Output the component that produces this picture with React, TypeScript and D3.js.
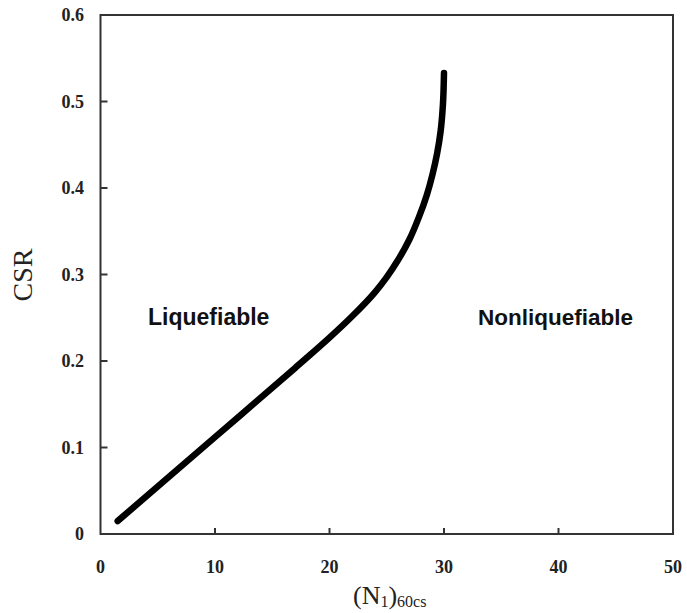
import React from "react";
import * as d3 from "d3";

const N1_60cs = [1.5, 10, 17, 20, 22, 24, 25, 26, 27, 27.8, 28.5, 29.0, 29.4, 29.7, 29.9, 30.0];
const CSR = [0.015, 0.112, 0.192, 0.227, 0.252, 0.280, 0.297, 0.317, 0.341, 0.366, 0.392, 0.416, 0.440, 0.465, 0.495, 0.533];
const xTicks = [0, 10, 20, 30, 40, 50];
const yTicks = [0, 0.1, 0.2, 0.3, 0.4, 0.5, 0.6];
const yTickLabels = ["0", "0.1", "0.2", "0.3", "0.4", "0.5", "0.6"];

const W = 687;
const H = 613;
const L = 100.5, R = 673, T = 15, B = 534;

export default function App() {
  const x = d3.scaleLinear().domain([0, 50]).range([L, R]);
  const y = d3.scaleLinear().domain([0, 0.6]).range([B, T]);
  const pts: [number, number][] = N1_60cs.map((n, i) => [n, CSR[i]]);
  const line = d3
    .line<[number, number]>()
    .x((d) => x(d[0]))
    .y((d) => y(d[1]))
    .curve(d3.curveMonotoneY);
  const serif = "'Liberation Serif', 'Times New Roman', serif";
  const sans = "'Liberation Sans', Arial, sans-serif";
  const axisColor = "#333";
  return (
    <svg
      width={W}
      height={H}
      style={{ position: "absolute", left: 0, top: 0, background: "#fff" }}
    >
      <rect x={0} y={0} width={W} height={H} fill="#fff" />
      <rect x={L} y={T} width={R - L} height={B - T} fill="none" stroke={axisColor} strokeWidth={2} />
      {xTicks.map((t) => (
        <g key={"x" + t}>
          {t > 0 && t < 50 && (
            <line x1={x(t)} x2={x(t)} y1={B} y2={B - 6} stroke={axisColor} strokeWidth={2} />
          )}
          <text
            x={x(t)}
            y={573}
            textAnchor="middle"
            fontFamily={serif}
            fontWeight="bold"
            fontSize={18}
            fill="#222"
          >
            {t}
          </text>
        </g>
      ))}
      {yTicks.map((t, i) => (
        <g key={"y" + t}>
          {i > 0 && i < yTicks.length - 1 && (
            <line x1={L} x2={L + 7} y1={y(t)} y2={y(t)} stroke={axisColor} strokeWidth={2} />
          )}
          <text
            x={84}
            y={y(t)}
            dy="0.35em"
            textAnchor="end"
            fontFamily={serif}
            fontWeight="bold"
            fontSize={18}
            fill="#222"
          >
            {yTickLabels[i]}
          </text>
        </g>
      ))}
      <path
        d={line(pts) || ""}
        fill="none"
        stroke="#000"
        strokeWidth={6.5}
        strokeLinecap="round"
        strokeLinejoin="round"
      />
      <text x={148} y={325} fontFamily={sans} fontWeight="bold" fontSize={23} fill="#111">
        Liquefiable
      </text>
      <text x={478} y={325} fontFamily={sans} fontWeight="bold" fontSize={22.5} fill="#111">
        Nonliquefiable
      </text>
      <text
        transform={`translate(32, 275) rotate(-90)`}
        textAnchor="middle"
        fontFamily={serif}
        fontSize={28}
        fill="#222"
      >
        CSR
      </text>
      <text x={353} y={604} fontFamily={serif} fontSize={26} fill="#222">
        (N
        <tspan fontSize={16} dy={3}>1</tspan>
        <tspan fontSize={26} dy={-3}>)</tspan>
        <tspan fontSize={16} dy={3}>60cs</tspan>
      </text>
    </svg>
  );
}
